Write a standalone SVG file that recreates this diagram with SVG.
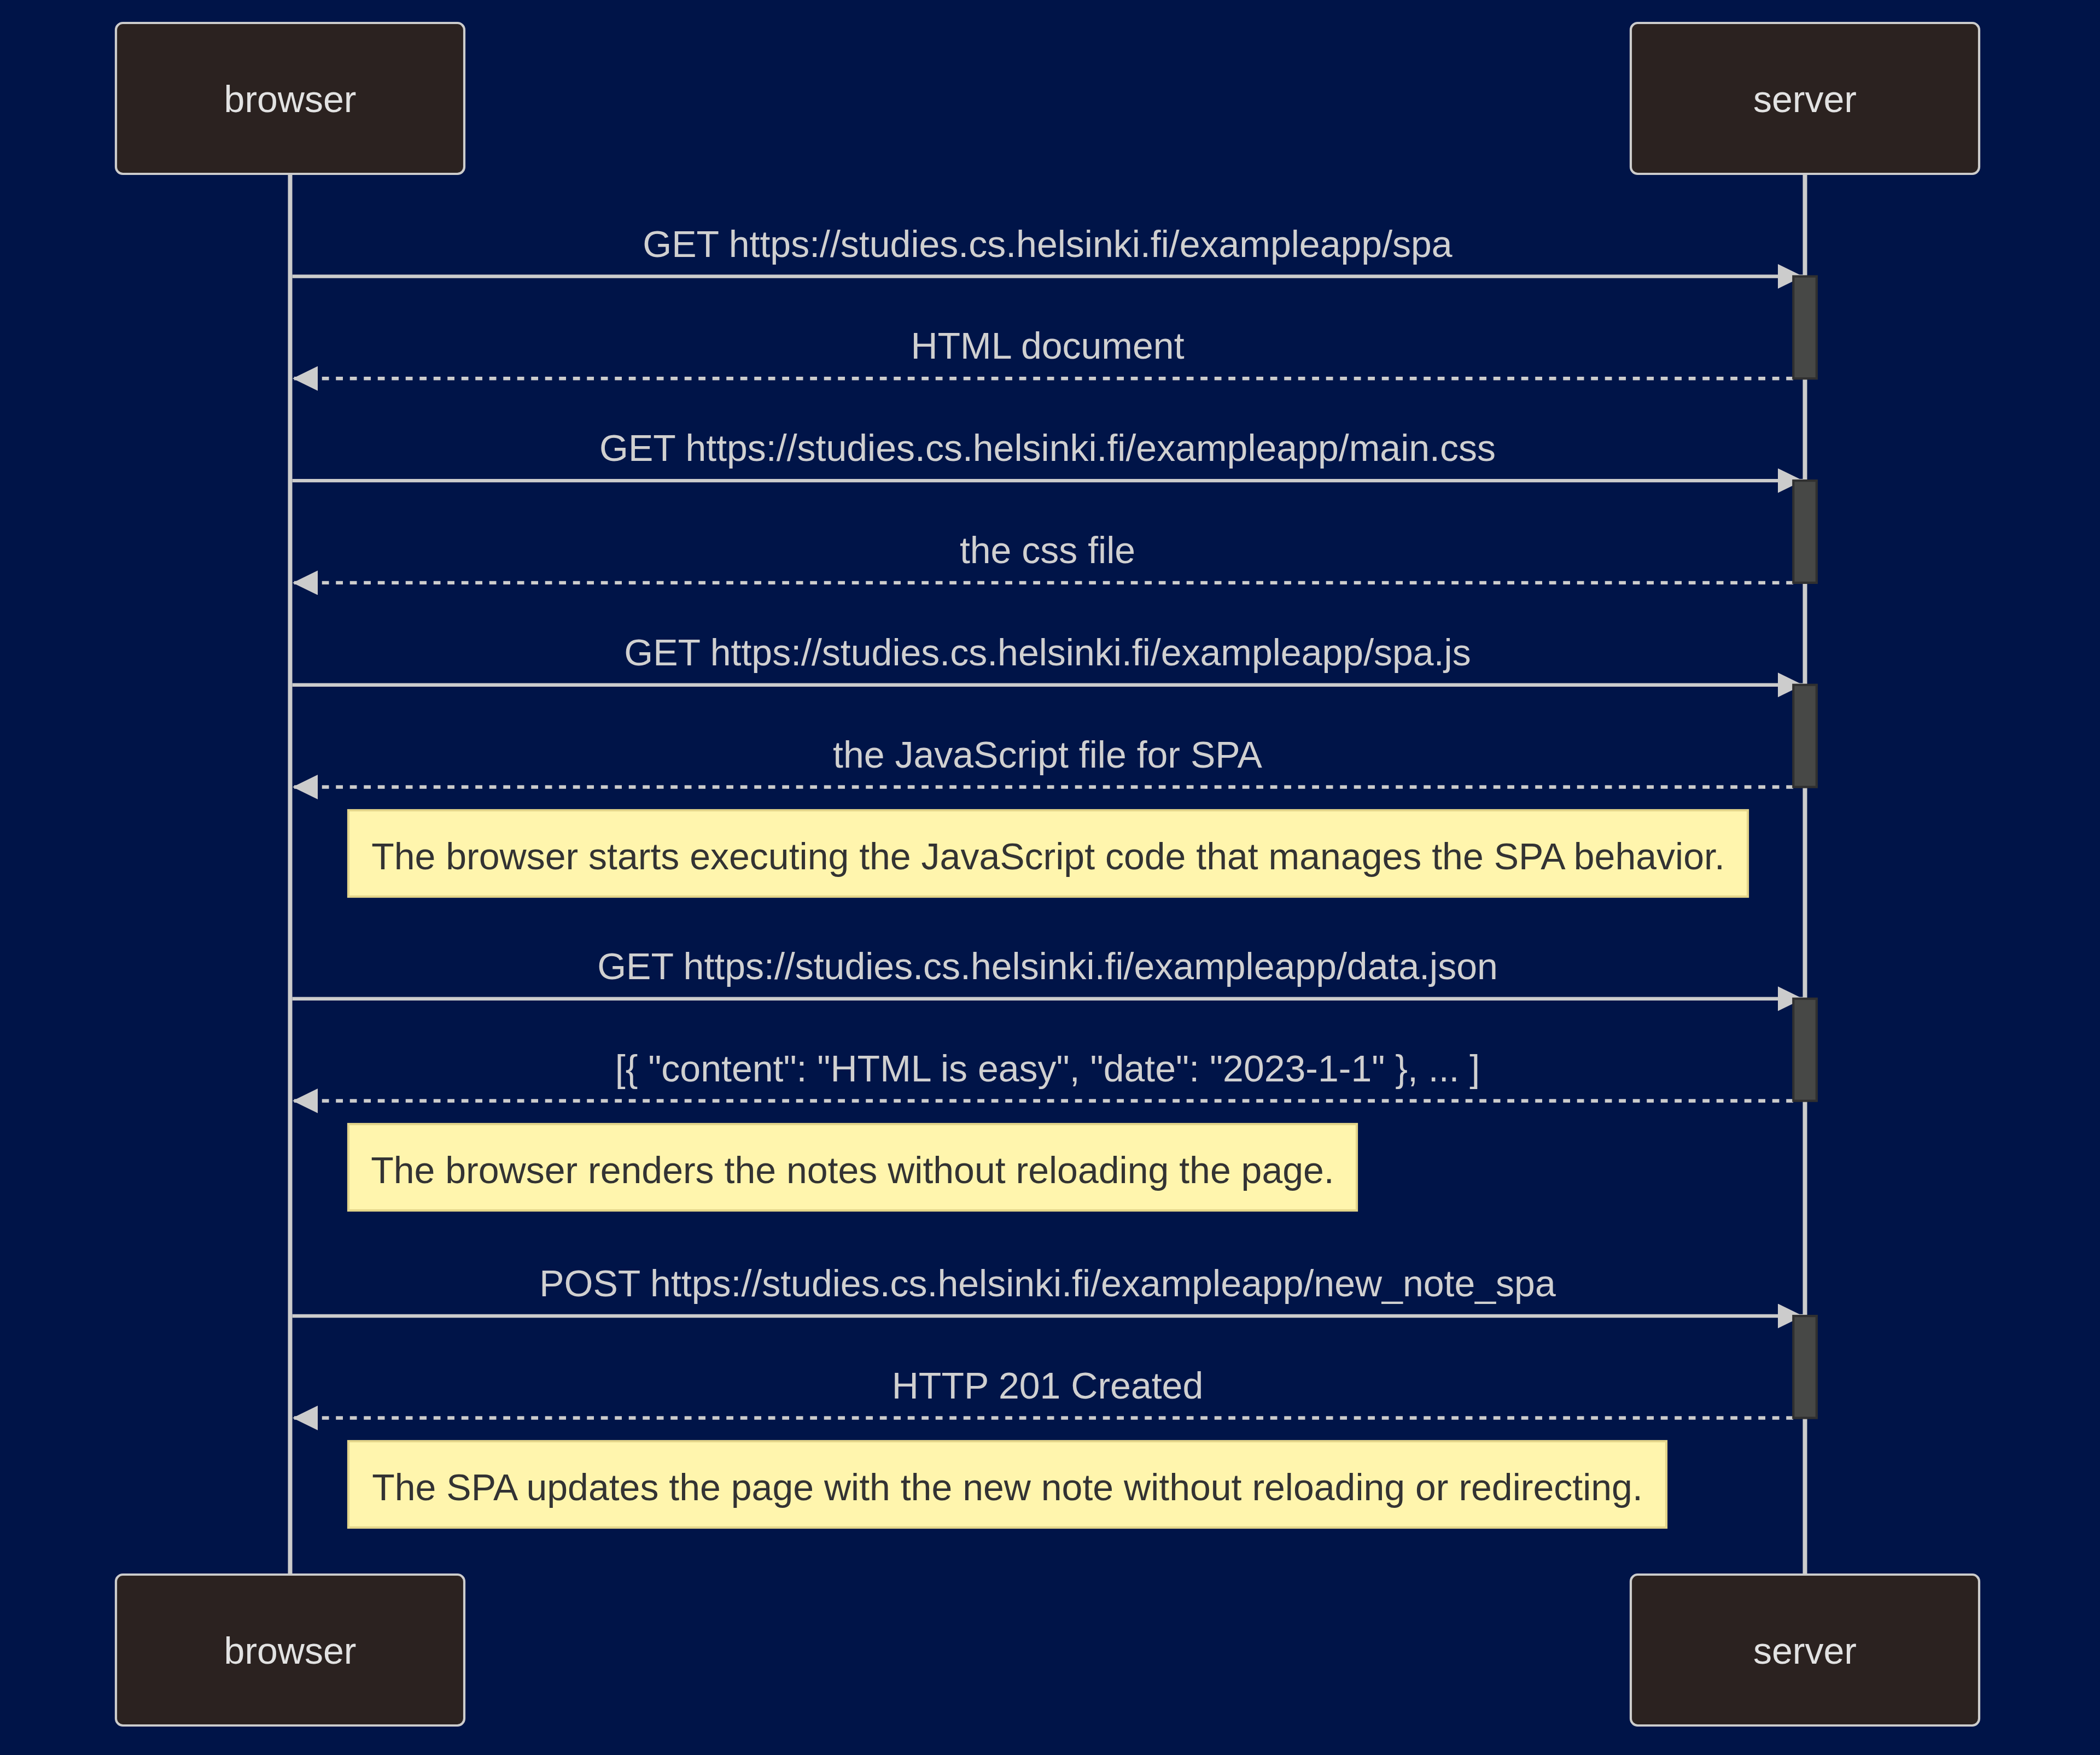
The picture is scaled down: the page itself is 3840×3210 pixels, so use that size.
<svg xmlns="http://www.w3.org/2000/svg" width="3840" height="3210" viewBox="0 0 3840 3210">
  <style>
    .actor rect { fill: #2b2220; stroke: #cccccc; stroke-width: 4.2; }
    .actor text { fill: #e2e2e2; font-family: "Liberation Sans", Arial, sans-serif; font-size: 68px; text-anchor: middle; }
    .lifeline { stroke: #cccccc; stroke-width: 8; }
    .msg { stroke: #cccccc; stroke-width: 6.4; fill: none; }
    .reply { stroke-dasharray: 12.75 12.75; }
    .msgText { fill: #d0d0d0; font-family: "Liberation Sans", Arial, sans-serif; font-size: 68px; text-anchor: middle; }
    .activation { fill: #474846; stroke: #303030; stroke-width: 4.2; }
    .note rect { fill: #fff5ad; stroke: #e3d58a; stroke-width: 4.2; }
    .note text { fill: #333333; font-family: "Liberation Sans", Arial, sans-serif; font-size: 68px; text-anchor: middle; }
  </style>
  <defs>
    <marker id="arrowhead" markerUnits="userSpaceOnUse" markerWidth="47" markerHeight="46" refX="46" refY="22.5" orient="auto">
      <path d="M0,0 L46,22.5 L0,45 z" fill="#cccccc"/>
    </marker>
  </defs>

  <rect width="3840" height="3210" fill="#001448"/>

  <!-- lifelines -->
  <g id="lifelines">
    <line class="lifeline" x1="530.5" y1="318" x2="530.5" y2="2880"/>
    <line class="lifeline" x1="3300.5" y1="318" x2="3300.5" y2="2880"/>
  </g>

  <!-- participants, top and bottom -->
  <g id="browser-top" class="actor">
    <rect x="212" y="42" width="637" height="276" rx="12.7" ry="12.7"/>
    <text x="530.5" y="205">browser</text>
  </g>
  <g id="server-top" class="actor">
    <rect x="2982" y="42" width="637" height="276" rx="12.7" ry="12.7"/>
    <text x="3300.5" y="205">server</text>
  </g>
  <g id="browser-bottom" class="actor">
    <rect x="212" y="2880" width="637" height="276" rx="12.7" ry="12.7"/>
    <text x="530.5" y="3043">browser</text>
  </g>
  <g id="server-bottom" class="actor">
    <rect x="2982" y="2880" width="637" height="276" rx="12.7" ry="12.7"/>
    <text x="3300.5" y="3043">server</text>
  </g>

  <!-- messages -->
  <g id="connectors">
    <line class="msg" x1="534.5" y1="505.5" x2="3297" y2="505.5" marker-end="url(#arrowhead)"/>
    <text class="msgText" x="1915.5" y="469.5">GET https://studies.cs.helsinki.fi/exampleapp/spa</text>

    <line class="msg reply" x1="3279" y1="692.3" x2="535" y2="692.3" marker-end="url(#arrowhead)"/>
    <text class="msgText" x="1915.5" y="656.3">HTML document</text>

    <line class="msg" x1="534.5" y1="879.1" x2="3297" y2="879.1" marker-end="url(#arrowhead)"/>
    <text class="msgText" x="1915.5" y="843.1">GET https://studies.cs.helsinki.fi/exampleapp/main.css</text>

    <line class="msg reply" x1="3279" y1="1065.9" x2="535" y2="1065.9" marker-end="url(#arrowhead)"/>
    <text class="msgText" x="1915.5" y="1029.9">the css file</text>

    <line class="msg" x1="534.5" y1="1252.7" x2="3297" y2="1252.7" marker-end="url(#arrowhead)"/>
    <text class="msgText" x="1915.5" y="1216.7">GET https://studies.cs.helsinki.fi/exampleapp/spa.js</text>

    <line class="msg reply" x1="3279" y1="1439.5" x2="535" y2="1439.5" marker-end="url(#arrowhead)"/>
    <text class="msgText" x="1915.5" y="1403.5">the JavaScript file for SPA</text>

    <line class="msg" x1="534.5" y1="1826.7" x2="3297" y2="1826.7" marker-end="url(#arrowhead)"/>
    <text class="msgText" x="1915.5" y="1790.7">GET https://studies.cs.helsinki.fi/exampleapp/data.json</text>

    <line class="msg reply" x1="3279" y1="2013.5" x2="535" y2="2013.5" marker-end="url(#arrowhead)"/>
    <text class="msgText" x="1915.5" y="1977.5">[{ "content": "HTML is easy", "date": "2023-1-1" }, ... ]</text>

    <line class="msg" x1="534.5" y1="2407" x2="3297" y2="2407" marker-end="url(#arrowhead)"/>
    <text class="msgText" x="1915.5" y="2371">POST https://studies.cs.helsinki.fi/exampleapp/new_note_spa</text>

    <line class="msg reply" x1="3279" y1="2593.5" x2="535" y2="2593.5" marker-end="url(#arrowhead)"/>
    <text class="msgText" x="1915.5" y="2557.5">HTTP 201 Created</text>
  </g>

  <!-- server activations -->
  <g id="activations">
    <rect class="activation" x="3279.3" y="505.5" width="42.5" height="186.8"/>
    <rect class="activation" x="3279.3" y="879.1" width="42.5" height="186.8"/>
    <rect class="activation" x="3279.3" y="1252.7" width="42.5" height="186.8"/>
    <rect class="activation" x="3279.3" y="1826.7" width="42.5" height="186.8"/>
    <rect class="activation" x="3279.3" y="2407" width="42.5" height="186.5"/>
  </g>

  <!-- notes -->
  <g id="note-spa-start" class="note">
    <rect x="637" y="1482" width="2559" height="158"/>
    <text x="1916.5" y="1590">The browser starts executing the JavaScript code that manages the SPA behavior.</text>
  </g>
  <g id="note-render" class="note">
    <rect x="637" y="2056" width="1844" height="158"/>
    <text x="1559" y="2164">The browser renders the notes without reloading the page.</text>
  </g>
  <g id="note-update" class="note">
    <rect x="637" y="2636" width="2410" height="158"/>
    <text x="1842" y="2744">The SPA updates the page with the new note without reloading or redirecting.</text>
  </g>
</svg>
